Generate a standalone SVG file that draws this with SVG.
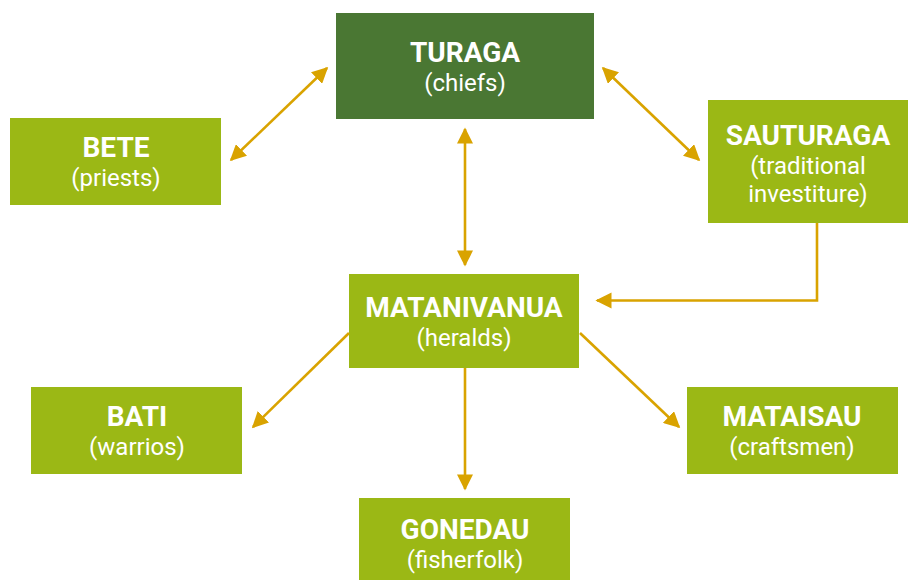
<svg xmlns="http://www.w3.org/2000/svg" width="908" height="580" viewBox="0 0 908 580">
<style>
.box{fill:#9bb815}
.dark{fill:#4a7733}
.t{font-family:Roboto,"Liberation Sans",sans-serif;fill:#fff;text-anchor:middle}
.h{font-weight:bold;font-size:28px}
.s{font-size:24px}
.c{stroke:#d9a300;stroke-width:2.6;fill:none}
</style>
<defs>
<marker id="ah" viewBox="0 0 10 10" refX="9" refY="5" markerWidth="6.2" markerHeight="6.2" orient="auto-start-reverse" markerUnits="strokeWidth">
<path d="M0,0 L10,5 L0,10 z" fill="#d9a300"/>
</marker>
</defs>
<g id="turaga"><rect class="dark" x="336" y="13" width="258" height="106"/><text class="t h" x="465" y="62">TURAGA</text><text class="t s" x="465" y="91">(chiefs)</text></g>
<g id="bete"><rect class="box" x="10" y="118" width="211" height="87"/><text class="t h" x="116" y="157">BETE</text><text class="t s" x="116" y="186">(priests)</text></g>
<g id="sauturaga"><rect class="box" x="708" y="100" width="200" height="123"/><text class="t h" x="808" y="145">SAUTURAGA</text><text class="t s" x="808" y="174">(traditional</text><text class="t s" x="808" y="202">investiture)</text></g>
<g id="matanivanua"><rect class="box" x="349" y="274" width="230" height="94"/><text class="t h" x="464" y="317">MATANIVANUA</text><text class="t s" x="464" y="346">(heralds)</text></g>
<g id="bati"><rect class="box" x="31" y="387" width="211" height="87"/><text class="t h" x="137" y="426">BATI</text><text class="t s" x="137" y="455">(warrios)</text></g>
<g id="mataisau"><rect class="box" x="687" y="387" width="211" height="87"/><text class="t h" x="792" y="426">MATAISAU</text><text class="t s" x="792" y="455">(craftsmen)</text></g>
<g id="gonedau"><rect class="box" x="359" y="498" width="211" height="82"/><text class="t h" x="465" y="539">GONEDAU</text><text class="t s" x="465" y="568">(fisherfolk)</text></g>
<g id="connectors">
<line class="c" x1="231" y1="160" x2="327" y2="68" marker-start="url(#ah)" marker-end="url(#ah)"/>
<line class="c" x1="603" y1="68" x2="699" y2="160" marker-start="url(#ah)" marker-end="url(#ah)"/>
<line class="c" x1="465" y1="129" x2="465" y2="265" marker-start="url(#ah)" marker-end="url(#ah)"/>
<polyline class="c" points="817,223 817,300.5 597,300.5" marker-end="url(#ah)"/>
<line class="c" x1="349" y1="333" x2="253" y2="427" marker-end="url(#ah)"/>
<line class="c" x1="580" y1="333" x2="679" y2="427" marker-end="url(#ah)"/>
<line class="c" x1="465" y1="368" x2="465" y2="489" marker-end="url(#ah)"/>
</g>
</svg>
